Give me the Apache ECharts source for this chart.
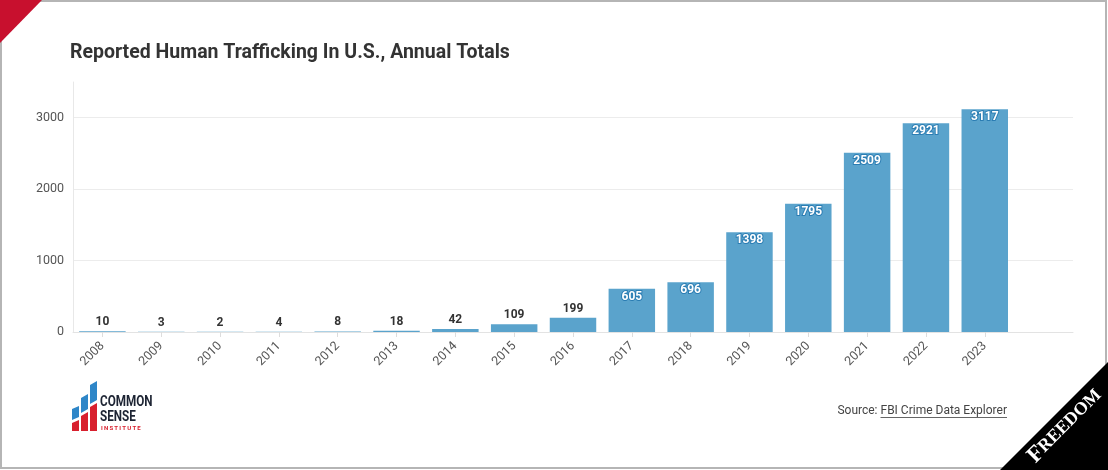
<!DOCTYPE html>
<html><head><meta charset="utf-8">
<script src="https://cdn.jsdelivr.net/npm/echarts@6/dist/echarts.min.js"></script>
<style>html,body{margin:0;padding:0;background:#fff}#c{width:1108px;height:470px}</style>
</head><body><div id="c"></div>
<script>
const years = ['2008','2009','2010','2011','2012','2013','2014','2015','2016','2017','2018','2019','2020','2021','2022','2023'];
const totals = [10,3,2,4,8,18,42,109,199,605,696,1398,1795,2509,2921,3117];
const yMax = 3500;
const yStep = 1000;
const titleText = 'Reported Human Trafficking In U.S., Annual Totals';
const sourcePrefix = 'Source: ';
const sourceLink = 'FBI Crime Data Explorer';
const logoWords = ['COMMON', 'SENSE', 'INSTITUTE'];
const cornerWord = 'FREEDOM';

const FONT = 'Roboto, "Noto Sans", sans-serif';
const barColor = '#5aa3cc';
const insideThreshold = 300;

const chart = echarts.init(document.getElementById('c'), null, {renderer: 'canvas'});

const ctx = document.createElement('canvas').getContext('2d');
ctx.font = '12px Roboto';
const linkW = ctx.measureText(sourceLink).width;
const srcRight = 1007;
const srcY = 411;

const barData = totals.map(v => {
  const inside = v >= insideThreshold;
  return {
    value: v,
    label: inside ? {
      position: 'insideTop', distance: 2, color: '#fff',
      textBorderColor: '#2b7db3', textBorderWidth: 2
    } : {
      position: 'top', distance: 3, color: '#333'
    }
  };
});

const option = {
  animation: false,
  backgroundColor: '#fff',
  title: {
    text: titleText, left: 65, top: 38,
    textStyle: {fontFamily: FONT, fontSize: 19.5, fontWeight: 'bold', color: '#333'}
  },
  grid: {left: 73, right: 35, top: 82, bottom: 138, containLabel: false, outerBoundsMode: 'none'},
  xAxis: {
    type: 'category',
    data: years.concat(['']),
    axisLine: {lineStyle: {color: '#e3e3e3'}},
    axisTick: {show: true, alignWithLabel: true, length: 5, lineStyle: {color: '#ddd'},
      interval: (i, v) => v !== ''},
    axisLabel: {interval: 0, rotate: 45, margin: 12, color: '#555', fontFamily: FONT, fontSize: 12.5}
  },
  yAxis: {
    type: 'value', min: 0, max: yMax, interval: yStep,
    axisLine: {show: true, lineStyle: {color: '#e8e8e8'}},
    axisTick: {show: false},
    axisLabel: {showMaxLabel: false, margin: 9, color: '#555', fontFamily: FONT, fontSize: 12.5,
      formatter: v => String(v)},
    splitLine: {show: true, showMaxLine: false, lineStyle: {color: '#ececec'}}
  },
  series: [{
    type: 'bar',
    data: barData,
    barCategoryGap: '21%',
    itemStyle: {color: barColor},
    label: {show: true, fontFamily: FONT, fontSize: 12, fontWeight: 'bold'}
  }],
  graphic: [
    {type: 'rect', silent: true, z: 100, shape: {x: 1, y: 1, width: 1105, height: 467},
      style: {fill: 'none', stroke: '#b5b5b5', lineWidth: 2}},
    {type: 'polygon', z: 101, shape: {points: [[0,0],[42,0],[0,43]]}, style: {fill: '#c8102e'}},
    {type: 'polygon', z: 101, shape: {points: [[1000,470],[1108,470],[1108,362]]}, style: {fill: '#000'}},
    {type: 'text', z: 102, x: 1065, y: 426, rotation: Math.PI / 4,
      style: {text: '{a|' + cornerWord[0] + '}{b|' + cornerWord.slice(1) + '}', fill: '#fff',
        align: 'center', verticalAlign: 'middle',
        rich: {
          a: {fill: '#fff', font: 'bold 23px "Liberation Serif", "DejaVu Serif", serif'},
          b: {fill: '#fff', font: 'bold 18px "Liberation Serif", "DejaVu Serif", serif'}
        }}},
    // logo blue bars
    {type: 'polygon', shape: {points: [[72,409],[79,406],[79,417],[72,420]]}, style: {fill: '#2e86c8'}},
    {type: 'polygon', shape: {points: [[81,398],[88,394],[88,409],[81,413]]}, style: {fill: '#2e86c8'}},
    {type: 'polygon', shape: {points: [[90,385],[97,381],[97,400],[90,404]]}, style: {fill: '#2e86c8'}},
    // logo red bars
    {type: 'polygon', shape: {points: [[72,423],[79,420],[79,431],[72,431]]}, style: {fill: '#d8202e'}},
    {type: 'polygon', shape: {points: [[81,416],[88,412],[88,431],[81,431]]}, style: {fill: '#d8202e'}},
    {type: 'polygon', shape: {points: [[90,407],[97,403],[97,431],[90,431]]}, style: {fill: '#d8202e'}},
    {type: 'text', x: 100, y: 402, scaleX: 0.78, style: {text: logoWords[0], fill: '#1d2433',
      font: 'bold 15px Roboto', verticalAlign: 'middle'}},
    {type: 'text', x: 100, y: 417, scaleX: 0.78, style: {text: logoWords[1], fill: '#1d2433',
      font: 'bold 15px Roboto', verticalAlign: 'middle'}},
    {type: 'text', x: 101, y: 428.5, style: {text: logoWords[2].split('').join('\u2009'), fill: '#d8202e',
      font: 'bold 6px Roboto', verticalAlign: 'middle'}},
    // source
    {type: 'text', x: srcRight, y: srcY, style: {text: sourceLink, fill: '#444', font: '12px Roboto',
      align: 'right', verticalAlign: 'middle'}},
    {type: 'text', x: srcRight - linkW, y: srcY, style: {text: sourcePrefix, fill: '#444', font: '12px Roboto',
      align: 'right', verticalAlign: 'middle'}},
    {type: 'line', shape: {x1: srcRight - linkW, y1: srcY + 6.5, x2: srcRight, y2: srcY + 6.5},
      style: {stroke: '#666', lineWidth: 1}}
  ]
};
chart.setOption(option);
</script></body></html>
